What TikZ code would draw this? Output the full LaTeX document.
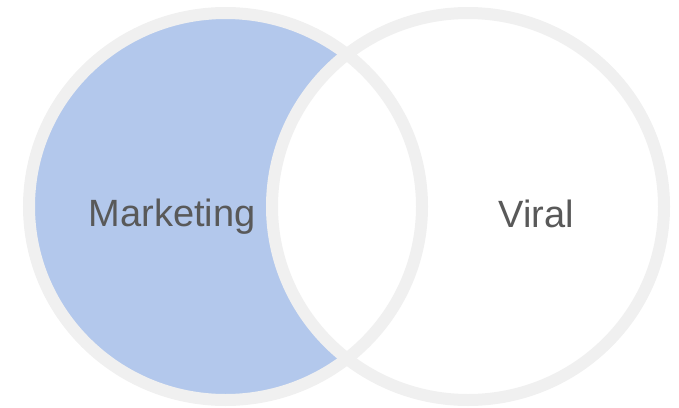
\documentclass[tikz,border=0pt]{standalone}
\usepackage{fontspec}
\setmainfont{Liberation Sans}
\definecolor{ringgrey}{HTML}{F0F0F0}
\definecolor{crescent}{HTML}{B3C8EC}
\definecolor{labelgrey}{HTML}{595959}
\begin{document}
\begin{tikzpicture}[x=1pt,y=-1pt,
  ring/.style={draw=ringgrey,line width=12pt},
  lbl/.style={text=labelgrey,font=\fontsize{38}{40}\selectfont,anchor=base,inner sep=0pt}]
\useasboundingbox (0,0) rectangle (679,407);
% fills
\fill[crescent] (225.5,206.5) ellipse [x radius=196.5,y radius=193.5];
\fill[white] (468,206.5) ellipse [x radius=196,y radius=193.5];
% rings
\draw[ring] (225.5,206.5) ellipse [x radius=196.5,y radius=193.5];
\draw[ring] (468,206.5) ellipse [x radius=196,y radius=193.5];
% labels
\node[lbl] (marketing) at (172,226) {Marketing};
\node[lbl] (viral) at (536,227) {Viral};
\end{tikzpicture}
\end{document}
